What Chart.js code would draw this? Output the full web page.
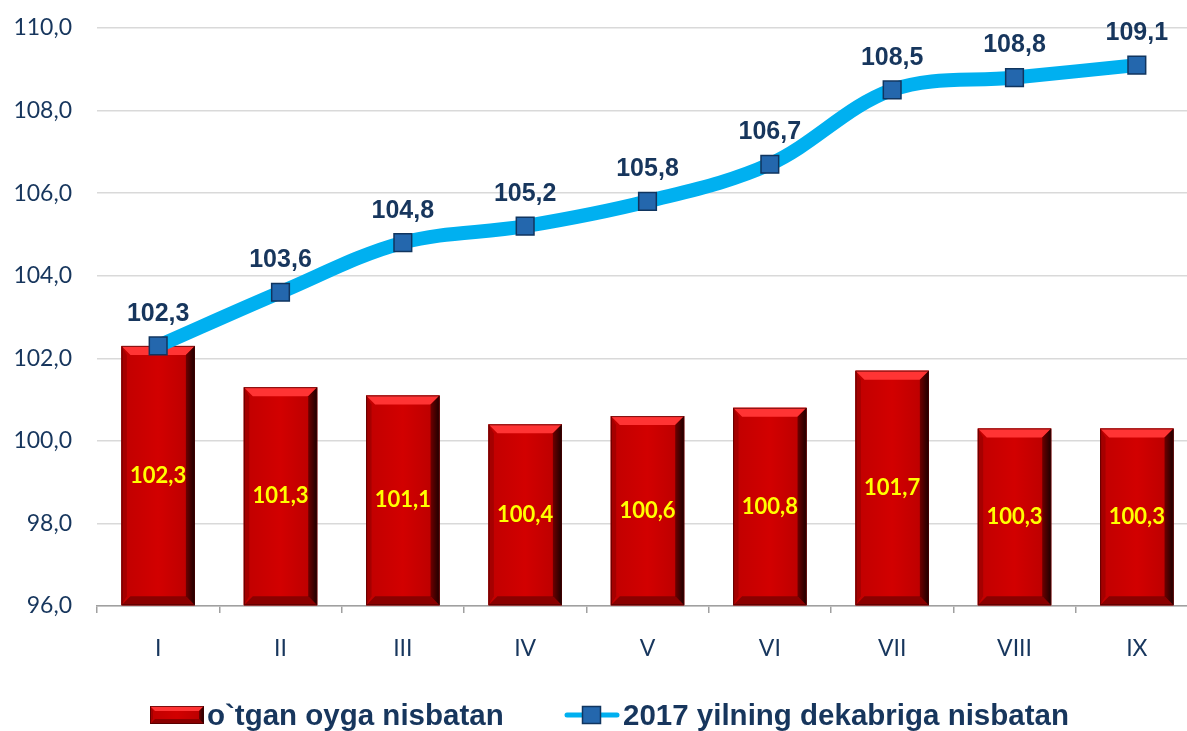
<!DOCTYPE html>
<html lang="uz">
<head>
<meta charset="UTF-8">
<title>Narxlar indeksi</title>
<script src="https://cdn.jsdelivr.net/npm/chart.js"></script>
<style>
    body {
        margin: 0;
        background: #fff;
        overflow: hidden;
    }
    .wrap {
        width: 1200px;
        height: 731px;
        position: relative;
    }
    .legend-item {
        position: absolute;
        top: 700px;
        height: 30px;
        display: flex;
        align-items: center;
        font: bold 29.5px "Liberation Sans", Arial, sans-serif;
        line-height: 30px;
        color: #17365d;
        white-space: nowrap;
    }
    .legend-item canvas {
        margin-right: 3px;
    }
</style>
</head>
<body>
<div class="wrap">
    <canvas id="chart"></canvas>
    <div class="legend-item" id="lg0" style="left:150px"></div>
    <div class="legend-item" id="lg1" style="left:564px"></div>
</div>
<script>
// ma'lumotlar
const months = ['I', 'II', 'III', 'IV', 'V', 'VI', 'VII', 'VIII', 'IX'];
const prevMonth = [102.3, 101.3, 101.1, 100.4, 100.6, 100.8, 101.7, 100.3, 100.3];
const sinceDec = [102.3, 103.6, 104.8, 105.2, 105.8, 106.7, 108.5, 108.8, 109.1];
const yTicks = [96, 98, 100, 102, 104, 106, 108, 110];
const seriesNames = ['o`tgan oyga nisbatan', '2017 yilning dekabriga nisbatan'];

const navy = '#17365d';
const fmt = v => v.toFixed(1).replace('.', ',');

function poly(ctx, pts) {
    ctx.beginPath();
    ctx.moveTo(pts[0][0], pts[0][1]);
    for (let i = 1; i < pts.length; i++) ctx.lineTo(pts[i][0], pts[i][1]);
    ctx.closePath();
    ctx.fill();
}

// qizil ustun, bo'rtma qirralar bilan
function bevelBox(ctx, l, t, r, b, e) {
    ctx.save();
    const face = ctx.createLinearGradient(l, 0, r, 0);
    face.addColorStop(0, '#c00000');
    face.addColorStop(0.5, '#d20000');
    face.addColorStop(1, '#b80000');
    ctx.fillStyle = face;
    ctx.fillRect(l, t, r - l, b - t);
    ctx.fillStyle = '#ff3434';
    poly(ctx, [[l, t], [r, t], [r - e, t + e], [l + e, t + e]]);
    ctx.fillStyle = '#8a0000';
    poly(ctx, [[l, b], [r, b], [r - e, b - e], [l + e, b - e]]);
    const g = ctx.createLinearGradient(r - e, 0, r, 0);
    g.addColorStop(0, '#6e0000');
    g.addColorStop(1, '#1c0000');
    ctx.fillStyle = g;
    poly(ctx, [[r, t], [r, b], [r - e, b - e], [r - e, t + e]]);
    ctx.fillStyle = '#a50000';
    poly(ctx, [[l, t], [l, b], [l + e * 0.6, b - e], [l + e * 0.6, t + e]]);
    ctx.strokeStyle = 'rgba(70,0,0,0.7)';
    ctx.lineWidth = 1;
    ctx.strokeRect(l + 0.5, t + 0.5, r - l - 1, b - t - 1);
    ctx.restore();
}

// legend belgilari
const barIcon = document.createElement('canvas');
barIcon.width = 54; barIcon.height = 18;
bevelBox(barIcon.getContext('2d'), 0, 0, 54, 18, 5);

const lineIcon = document.createElement('canvas');
lineIcon.width = 56; lineIcon.height = 22;
(function () {
    const c = lineIcon.getContext('2d');
    c.strokeStyle = '#00b0f0';
    c.lineWidth = 5;
    c.lineCap = 'round';
    c.beginPath(); c.moveTo(3, 11); c.lineTo(53, 11); c.stroke();
    c.fillStyle = '#2467ad';
    c.fillRect(18, 2, 19, 18);
    c.strokeStyle = '#10355f';
    c.lineWidth = 1.5;
    c.strokeRect(18.5, 2.5, 18, 17);
})();

[barIcon, lineIcon].forEach((icon, i) => {
    const box = document.getElementById('lg' + i);
    box.appendChild(icon);
    const s = document.createElement('span');
    s.textContent = seriesNames[i];
    box.appendChild(s);
});

const bevelPlugin = {
    id: 'bevel',
    afterDatasetDraw(chart, args) {
        if (args.index !== 0) return;
        const ctx = chart.ctx;
        args.meta.data.forEach(el => {
            const p = el.getProps(['x', 'y', 'base', 'width'], true);
            bevelBox(ctx, p.x - p.width / 2, p.y, p.x + p.width / 2, p.base, 9);
        });
    }
};

const labelPlugin = {
    id: 'valueLabels',
    afterDatasetsDraw(chart) {
        const ctx = chart.ctx;
        ctx.save();
        ctx.textAlign = 'center';
        ctx.textBaseline = 'middle';
        chart.getDatasetMeta(0).data.forEach((el, i) => {
            const p = el.getProps(['x', 'y', 'base'], true);
            ctx.font = 'bold 22px Lato, "Open Sans", sans-serif';
            ctx.fillStyle = '#ffff00';
            ctx.fillText(fmt(prevMonth[i]), p.x, (p.y + p.base) / 2);
        });
        chart.getDatasetMeta(1).data.forEach((el, i) => {
            const p = el.getProps(['x', 'y'], true);
            ctx.font = 'bold 25px "Liberation Sans", Arial, sans-serif';
            ctx.fillStyle = navy;
            ctx.fillText(fmt(sinceDec[i]), p.x, p.y - 32);
        });
        ctx.restore();
    }
};

new Chart(document.getElementById('chart'), {
    data: {
        labels: months,
        datasets: [{
            type: 'bar',
            label: seriesNames[0],
            data: prevMonth,
            base: yTicks[0],
            backgroundColor: '#cc0000',
            barPercentage: 1,
            categoryPercentage: 0.6,
            order: 2
        }, {
            type: 'line',
            label: seriesNames[1],
            data: sinceDec,
            borderColor: '#00b0f0',
            borderWidth: 14,
            tension: 0.35,
            clip: false,
            pointStyle: 'rect',
            pointRadius: 12.5,
            pointBackgroundColor: '#2467ad',
            pointBorderColor: '#10355f',
            pointBorderWidth: 1.5,
            order: 1
        }]
    },
    options: {
        responsive: true,
        maintainAspectRatio: false,
        animation: false,
        layout: { autoPadding: false, padding: { top: 28, right: 2, left: 0, bottom: 65 } },
        scales: {
            x: {
                afterFit(scale) { scale.height = 60; },
                grid: { drawOnChartArea: false, drawTicks: true, tickLength: 7, color: '#a0a0a0', lineWidth: 1.5 },
                border: { color: '#a0a0a0', width: 1.5 },
                ticks: {
                    color: navy,
                    padding: 22,
                    font: { family: 'Lato, "Liberation Sans", sans-serif', size: 23 }
                }
            },
            y: {
                min: yTicks[0],
                max: yTicks[yTicks.length - 1],
                afterFit(scale) { scale.width = 97; },
                afterBuildTicks(scale) { scale.ticks = yTicks.map(v => ({ value: v })); },
                // tick chiziqlari ko'rinmas, faqat yorliqlarni chapga suradi
                grid: { drawTicks: true, tickLength: 22, tickColor: 'rgba(0,0,0,0)', color: '#d9d9d9', lineWidth: 1.5 },
                border: { display: false },
                ticks: {
                    color: navy,
                    padding: 3,
                    font: { family: 'Lato, "Liberation Sans", sans-serif', size: 23 },
                    callback: v => fmt(v)
                }
            }
        },
        plugins: {
            tooltip: { enabled: false },
            legend: { display: false }
        }
    },
    plugins: [bevelPlugin, labelPlugin]
});
</script>
</body>
</html>
